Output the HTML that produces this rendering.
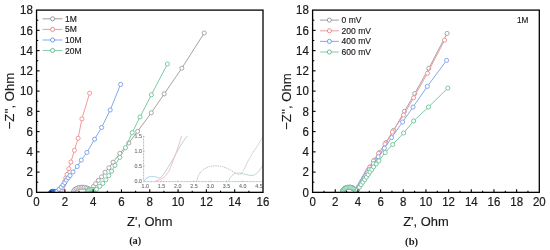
<!DOCTYPE html>
<html><head><meta charset="utf-8"><title>Nyquist plots</title>
<style>html,body{margin:0;padding:0;background:#fff;}svg{display:block;}</style>
</head><body>
<svg width="550" height="250" viewBox="0 0 550 250" font-family="'Liberation Sans', Arial, sans-serif">
<rect width="550" height="250" fill="#fff"/>
<clipPath id="ca"><rect x="36.55" y="10.1" width="226.45" height="182.25"/></clipPath>
<clipPath id="cb"><rect x="312.6" y="10.1" width="226.70" height="182.25"/></clipPath>
<g clip-path="url(#ca)">
<polyline points="73.35,192.35 73.38,191.93 73.46,191.52 73.61,191.11 73.81,190.71 74.06,190.33 74.37,189.95 74.73,189.59 75.14,189.25 75.59,188.93 76.09,188.63 76.63,188.35 77.20,188.10 77.81,187.88 78.44,187.68 79.10,187.52 79.78,187.39 80.48,187.29 81.19,187.22 81.91,187.19 82.62,187.19 83.34,187.22 84.05,187.29 84.75,187.39 85.43,187.52 86.09,187.68 86.72,187.88 87.33,188.10 87.90,188.35 88.44,188.63 88.94,188.93 89.39,189.25 89.80,189.59 90.16,189.95 90.47,190.33 90.72,190.71 90.92,191.11 91.07,191.52 91.15,191.93 91.18,192.35 91.80,189.80 93.60,186.40 95.60,183.70 98.30,180.40 101.60,176.80 105.10,172.20 108.90,167.80 113.20,162.20 119.80,153.40 128.80,143.00 137.60,131.30 151.30,112.80 164.20,93.90 181.80,68.20 204.20,33.00" fill="none" stroke="#a4a4a4" stroke-width="1.0" stroke-linejoin="round"/>
<circle cx="73.35" cy="192.35" r="2.05" fill="#fff" stroke="#999999" stroke-width="0.85"/>
<circle cx="73.79" cy="190.75" r="2.05" fill="#fff" stroke="#999999" stroke-width="0.85"/>
<circle cx="74.86" cy="189.48" r="2.05" fill="#fff" stroke="#999999" stroke-width="0.85"/>
<circle cx="76.25" cy="188.54" r="2.05" fill="#fff" stroke="#999999" stroke-width="0.85"/>
<circle cx="77.79" cy="187.89" r="2.05" fill="#fff" stroke="#999999" stroke-width="0.85"/>
<circle cx="79.41" cy="187.46" r="2.05" fill="#fff" stroke="#999999" stroke-width="0.85"/>
<circle cx="81.06" cy="187.24" r="2.05" fill="#fff" stroke="#999999" stroke-width="0.85"/>
<circle cx="82.74" cy="187.20" r="2.05" fill="#fff" stroke="#999999" stroke-width="0.85"/>
<circle cx="84.41" cy="187.34" r="2.05" fill="#fff" stroke="#999999" stroke-width="0.85"/>
<circle cx="86.05" cy="187.68" r="2.05" fill="#fff" stroke="#999999" stroke-width="0.85"/>
<circle cx="87.63" cy="188.23" r="2.05" fill="#fff" stroke="#999999" stroke-width="0.85"/>
<circle cx="89.09" cy="189.03" r="2.05" fill="#fff" stroke="#999999" stroke-width="0.85"/>
<circle cx="90.33" cy="190.16" r="2.05" fill="#fff" stroke="#999999" stroke-width="0.85"/>
<circle cx="91.09" cy="191.63" r="2.05" fill="#fff" stroke="#999999" stroke-width="0.85"/>
<circle cx="91.40" cy="191.43" r="2.05" fill="#fff" stroke="#999999" stroke-width="0.85"/>
<circle cx="91.80" cy="189.80" r="2.05" fill="#fff" stroke="#999999" stroke-width="0.85"/>
<circle cx="93.60" cy="186.40" r="2.05" fill="#fff" stroke="#999999" stroke-width="0.85"/>
<circle cx="95.60" cy="183.70" r="2.05" fill="#fff" stroke="#999999" stroke-width="0.85"/>
<circle cx="98.30" cy="180.40" r="2.05" fill="#fff" stroke="#999999" stroke-width="0.85"/>
<circle cx="101.60" cy="176.80" r="2.05" fill="#fff" stroke="#999999" stroke-width="0.85"/>
<circle cx="105.10" cy="172.20" r="2.05" fill="#fff" stroke="#999999" stroke-width="0.85"/>
<circle cx="108.90" cy="167.80" r="2.05" fill="#fff" stroke="#999999" stroke-width="0.85"/>
<circle cx="113.20" cy="162.20" r="2.05" fill="#fff" stroke="#999999" stroke-width="0.85"/>
<circle cx="119.80" cy="153.40" r="2.05" fill="#fff" stroke="#999999" stroke-width="0.85"/>
<circle cx="128.80" cy="143.00" r="2.05" fill="#fff" stroke="#999999" stroke-width="0.85"/>
<circle cx="137.60" cy="131.30" r="2.05" fill="#fff" stroke="#999999" stroke-width="0.85"/>
<circle cx="151.30" cy="112.80" r="2.05" fill="#fff" stroke="#999999" stroke-width="0.85"/>
<circle cx="164.20" cy="93.90" r="2.05" fill="#fff" stroke="#999999" stroke-width="0.85"/>
<circle cx="181.80" cy="68.20" r="2.05" fill="#fff" stroke="#999999" stroke-width="0.85"/>
<circle cx="204.20" cy="33.00" r="2.05" fill="#fff" stroke="#999999" stroke-width="0.85"/>
<polyline points="54.80,192.60 57.20,191.80 59.50,191.30 61.20,190.00 62.60,187.60 63.80,184.80 64.80,181.50 65.80,178.00 67.00,174.40 68.80,168.70 70.90,162.00 74.40,150.30 78.10,138.30 81.90,118.90 89.60,93.20" fill="none" stroke="#f29a9a" stroke-width="1.0" stroke-linejoin="round"/>
<circle cx="54.80" cy="192.60" r="2.05" fill="#fff" stroke="#f08888" stroke-width="0.85"/>
<circle cx="55.73" cy="192.29" r="2.05" fill="#fff" stroke="#f08888" stroke-width="0.85"/>
<circle cx="56.65" cy="191.98" r="2.05" fill="#fff" stroke="#f08888" stroke-width="0.85"/>
<circle cx="57.59" cy="191.71" r="2.05" fill="#fff" stroke="#f08888" stroke-width="0.85"/>
<circle cx="58.55" cy="191.51" r="2.05" fill="#fff" stroke="#f08888" stroke-width="0.85"/>
<circle cx="59.50" cy="191.30" r="2.05" fill="#fff" stroke="#f08888" stroke-width="0.85"/>
<circle cx="61.20" cy="190.00" r="2.05" fill="#fff" stroke="#f08888" stroke-width="0.85"/>
<circle cx="62.60" cy="187.60" r="2.05" fill="#fff" stroke="#f08888" stroke-width="0.85"/>
<circle cx="63.80" cy="184.80" r="2.05" fill="#fff" stroke="#f08888" stroke-width="0.85"/>
<circle cx="64.80" cy="181.50" r="2.05" fill="#fff" stroke="#f08888" stroke-width="0.85"/>
<circle cx="65.80" cy="178.00" r="2.05" fill="#fff" stroke="#f08888" stroke-width="0.85"/>
<circle cx="67.00" cy="174.40" r="2.05" fill="#fff" stroke="#f08888" stroke-width="0.85"/>
<circle cx="68.80" cy="168.70" r="2.05" fill="#fff" stroke="#f08888" stroke-width="0.85"/>
<circle cx="70.90" cy="162.00" r="2.05" fill="#fff" stroke="#f08888" stroke-width="0.85"/>
<circle cx="74.40" cy="150.30" r="2.05" fill="#fff" stroke="#f08888" stroke-width="0.85"/>
<circle cx="78.10" cy="138.30" r="2.05" fill="#fff" stroke="#f08888" stroke-width="0.85"/>
<circle cx="81.90" cy="118.90" r="2.05" fill="#fff" stroke="#f08888" stroke-width="0.85"/>
<circle cx="89.60" cy="93.20" r="2.05" fill="#fff" stroke="#f08888" stroke-width="0.85"/>
<circle cx="50.42" cy="192.35" r="1.9" fill="#2c72e4" stroke="#2c72e4" stroke-width="0.6"/>
<circle cx="50.75" cy="192.11" r="1.9" fill="#2c72e4" stroke="#2c72e4" stroke-width="0.6"/>
<circle cx="51.08" cy="191.87" r="1.9" fill="#2c72e4" stroke="#2c72e4" stroke-width="0.6"/>
<circle cx="51.42" cy="191.64" r="1.9" fill="#2c72e4" stroke="#2c72e4" stroke-width="0.6"/>
<circle cx="51.79" cy="191.50" r="1.9" fill="#2c72e4" stroke="#2c72e4" stroke-width="0.6"/>
<circle cx="52.19" cy="191.44" r="1.9" fill="#2c72e4" stroke="#2c72e4" stroke-width="0.6"/>
<circle cx="52.60" cy="191.38" r="1.9" fill="#2c72e4" stroke="#2c72e4" stroke-width="0.6"/>
<circle cx="53.00" cy="191.32" r="1.9" fill="#2c72e4" stroke="#2c72e4" stroke-width="0.6"/>
<circle cx="53.40" cy="191.26" r="1.9" fill="#2c72e4" stroke="#2c72e4" stroke-width="0.6"/>
<circle cx="53.81" cy="191.27" r="1.9" fill="#2c72e4" stroke="#2c72e4" stroke-width="0.6"/>
<circle cx="54.21" cy="191.32" r="1.9" fill="#2c72e4" stroke="#2c72e4" stroke-width="0.6"/>
<circle cx="54.62" cy="191.37" r="1.9" fill="#2c72e4" stroke="#2c72e4" stroke-width="0.6"/>
<circle cx="55.03" cy="191.41" r="1.9" fill="#2c72e4" stroke="#2c72e4" stroke-width="0.6"/>
<circle cx="55.43" cy="191.48" r="1.9" fill="#2c72e4" stroke="#2c72e4" stroke-width="0.6"/>
<circle cx="55.83" cy="191.57" r="1.9" fill="#2c72e4" stroke="#2c72e4" stroke-width="0.6"/>
<circle cx="56.23" cy="191.65" r="1.9" fill="#2c72e4" stroke="#2c72e4" stroke-width="0.6"/>
<circle cx="56.63" cy="191.74" r="1.9" fill="#2c72e4" stroke="#2c72e4" stroke-width="0.6"/>
<circle cx="57.01" cy="191.61" r="1.9" fill="#2c72e4" stroke="#2c72e4" stroke-width="0.6"/>
<circle cx="57.40" cy="191.48" r="1.9" fill="#2c72e4" stroke="#2c72e4" stroke-width="0.6"/>
<circle cx="57.78" cy="191.34" r="1.9" fill="#2c72e4" stroke="#2c72e4" stroke-width="0.6"/>
<polyline points="57.00,191.20 58.50,189.90 61.30,187.00 64.60,182.80 67.00,179.20 70.00,175.60 73.00,172.00 77.20,166.50 81.30,160.10 86.90,152.40 94.60,139.20 101.60,127.50 110.20,110.00 120.60,84.40" fill="none" stroke="#82aaec" stroke-width="1.0" stroke-linejoin="round"/>
<circle cx="57.00" cy="191.20" r="2.05" fill="#fff" stroke="#6e9ae6" stroke-width="0.85"/>
<circle cx="59.14" cy="189.23" r="2.05" fill="#fff" stroke="#6e9ae6" stroke-width="0.85"/>
<circle cx="61.16" cy="187.14" r="2.05" fill="#fff" stroke="#6e9ae6" stroke-width="0.85"/>
<circle cx="62.98" cy="184.87" r="2.05" fill="#fff" stroke="#6e9ae6" stroke-width="0.85"/>
<circle cx="64.76" cy="182.56" r="2.05" fill="#fff" stroke="#6e9ae6" stroke-width="0.85"/>
<circle cx="66.37" cy="180.14" r="2.05" fill="#fff" stroke="#6e9ae6" stroke-width="0.85"/>
<circle cx="68.14" cy="177.84" r="2.05" fill="#fff" stroke="#6e9ae6" stroke-width="0.85"/>
<circle cx="70.00" cy="175.60" r="2.05" fill="#fff" stroke="#6e9ae6" stroke-width="0.85"/>
<circle cx="73.00" cy="172.00" r="2.05" fill="#fff" stroke="#6e9ae6" stroke-width="0.85"/>
<circle cx="77.20" cy="166.50" r="2.05" fill="#fff" stroke="#6e9ae6" stroke-width="0.85"/>
<circle cx="81.30" cy="160.10" r="2.05" fill="#fff" stroke="#6e9ae6" stroke-width="0.85"/>
<circle cx="86.90" cy="152.40" r="2.05" fill="#fff" stroke="#6e9ae6" stroke-width="0.85"/>
<circle cx="94.60" cy="139.20" r="2.05" fill="#fff" stroke="#6e9ae6" stroke-width="0.85"/>
<circle cx="101.60" cy="127.50" r="2.05" fill="#fff" stroke="#6e9ae6" stroke-width="0.85"/>
<circle cx="110.20" cy="110.00" r="2.05" fill="#fff" stroke="#6e9ae6" stroke-width="0.85"/>
<circle cx="120.60" cy="84.40" r="2.05" fill="#fff" stroke="#6e9ae6" stroke-width="0.85"/>
<polyline points="86.80,192.60 88.10,190.60 90.00,189.70 92.00,189.40 94.20,189.50 96.50,189.30 99.80,186.40 102.80,183.40 105.80,179.80 108.80,175.60 111.60,171.20 115.00,165.40 119.80,157.40 125.50,147.70 132.20,132.70 140.00,116.90 151.40,94.80 167.40,64.00" fill="none" stroke="#7ccaa2" stroke-width="1.0" stroke-linejoin="round"/>
<circle cx="86.80" cy="192.60" r="2.05" fill="#fff" stroke="#68bf92" stroke-width="0.85"/>
<circle cx="87.55" cy="191.44" r="2.05" fill="#fff" stroke="#68bf92" stroke-width="0.85"/>
<circle cx="88.43" cy="190.44" r="2.05" fill="#fff" stroke="#68bf92" stroke-width="0.85"/>
<circle cx="89.68" cy="189.85" r="2.05" fill="#fff" stroke="#68bf92" stroke-width="0.85"/>
<circle cx="91.01" cy="189.55" r="2.05" fill="#fff" stroke="#68bf92" stroke-width="0.85"/>
<circle cx="92.38" cy="189.42" r="2.05" fill="#fff" stroke="#68bf92" stroke-width="0.85"/>
<circle cx="93.75" cy="189.48" r="2.05" fill="#fff" stroke="#68bf92" stroke-width="0.85"/>
<circle cx="95.13" cy="189.42" r="2.05" fill="#fff" stroke="#68bf92" stroke-width="0.85"/>
<circle cx="96.50" cy="189.30" r="2.05" fill="#fff" stroke="#68bf92" stroke-width="0.85"/>
<circle cx="99.80" cy="186.40" r="2.05" fill="#fff" stroke="#68bf92" stroke-width="0.85"/>
<circle cx="102.80" cy="183.40" r="2.05" fill="#fff" stroke="#68bf92" stroke-width="0.85"/>
<circle cx="105.80" cy="179.80" r="2.05" fill="#fff" stroke="#68bf92" stroke-width="0.85"/>
<circle cx="108.80" cy="175.60" r="2.05" fill="#fff" stroke="#68bf92" stroke-width="0.85"/>
<circle cx="111.60" cy="171.20" r="2.05" fill="#fff" stroke="#68bf92" stroke-width="0.85"/>
<circle cx="115.00" cy="165.40" r="2.05" fill="#fff" stroke="#68bf92" stroke-width="0.85"/>
<circle cx="119.80" cy="157.40" r="2.05" fill="#fff" stroke="#68bf92" stroke-width="0.85"/>
<circle cx="125.50" cy="147.70" r="2.05" fill="#fff" stroke="#68bf92" stroke-width="0.85"/>
<circle cx="132.20" cy="132.70" r="2.05" fill="#fff" stroke="#68bf92" stroke-width="0.85"/>
<circle cx="140.00" cy="116.90" r="2.05" fill="#fff" stroke="#68bf92" stroke-width="0.85"/>
<circle cx="151.40" cy="94.80" r="2.05" fill="#fff" stroke="#68bf92" stroke-width="0.85"/>
<circle cx="167.40" cy="64.00" r="2.05" fill="#fff" stroke="#68bf92" stroke-width="0.85"/>
</g>
<line x1="143.6" y1="136.0" x2="143.6" y2="181.6" stroke="#9a9a9a" stroke-width="0.7" stroke-dasharray="1,0.5"/>
<line x1="143.6" y1="181.6" x2="262.3" y2="181.6" stroke="#9a9a9a" stroke-width="0.7" stroke-dasharray="1,0.5"/>
<line x1="143.6" y1="165.95" x2="144.79999999999998" y2="165.95" stroke="#9a9a9a" stroke-width="0.5"/>
<line x1="143.6" y1="151.10" x2="144.79999999999998" y2="151.10" stroke="#9a9a9a" stroke-width="0.5"/>
<line x1="143.6" y1="136.25" x2="144.79999999999998" y2="136.25" stroke="#9a9a9a" stroke-width="0.5"/>
<line x1="161.45" y1="181.6" x2="161.45" y2="180.4" stroke="#9a9a9a" stroke-width="0.5"/>
<line x1="177.70" y1="181.6" x2="177.70" y2="180.4" stroke="#9a9a9a" stroke-width="0.5"/>
<line x1="193.95" y1="181.6" x2="193.95" y2="180.4" stroke="#9a9a9a" stroke-width="0.5"/>
<line x1="210.20" y1="181.6" x2="210.20" y2="180.4" stroke="#9a9a9a" stroke-width="0.5"/>
<line x1="226.45" y1="181.6" x2="226.45" y2="180.4" stroke="#9a9a9a" stroke-width="0.5"/>
<line x1="242.70" y1="181.6" x2="242.70" y2="180.4" stroke="#9a9a9a" stroke-width="0.5"/>
<text x="141.9" y="182.70" text-anchor="end" font-size="5.3" fill="#666" stroke="#666" stroke-width="0.08">0.0</text>
<text x="141.9" y="167.85" text-anchor="end" font-size="5.3" fill="#666" stroke="#666" stroke-width="0.08">0.5</text>
<text x="141.9" y="153.00" text-anchor="end" font-size="5.3" fill="#666" stroke="#666" stroke-width="0.08">1.0</text>
<text x="141.9" y="138.15" text-anchor="end" font-size="5.3" fill="#666" stroke="#666" stroke-width="0.08">1.5</text>
<clipPath id="lc"><rect x="0" y="0" width="262.3" height="250"/></clipPath>
<g clip-path="url(#lc)">
<text x="145.20" y="188.1" text-anchor="middle" font-size="5.3" fill="#666" stroke="#666" stroke-width="0.08">1.0</text>
<text x="161.45" y="188.1" text-anchor="middle" font-size="5.3" fill="#666" stroke="#666" stroke-width="0.08">1.5</text>
<text x="177.70" y="188.1" text-anchor="middle" font-size="5.3" fill="#666" stroke="#666" stroke-width="0.08">2.0</text>
<text x="193.95" y="188.1" text-anchor="middle" font-size="5.3" fill="#666" stroke="#666" stroke-width="0.08">2.5</text>
<text x="210.20" y="188.1" text-anchor="middle" font-size="5.3" fill="#666" stroke="#666" stroke-width="0.08">3.0</text>
<text x="226.45" y="188.1" text-anchor="middle" font-size="5.3" fill="#666" stroke="#666" stroke-width="0.08">3.5</text>
<text x="242.70" y="188.1" text-anchor="middle" font-size="5.3" fill="#666" stroke="#666" stroke-width="0.08">4.0</text>
<text x="258.95" y="188.1" text-anchor="middle" font-size="5.3" fill="#666" stroke="#666" stroke-width="0.08">4.5</text>
</g>
<clipPath id="ic"><rect x="143.6" y="136.0" width="118.70000000000002" height="45.599999999999994"/></clipPath>
<g clip-path="url(#ic)">
<polyline points="144.20,181.00 146.00,178.50 148.50,177.00 151.30,176.30 154.50,176.60 157.50,177.50 159.60,177.90 162.00,176.50 164.20,173.50 166.00,170.50 168.50,166.50 171.00,162.50 174.00,157.50 177.50,151.00 181.50,144.00 185.00,139.00 187.40,136.00 188.50,134.00" fill="none" stroke="#a6cfea" stroke-width="0.9" stroke-linejoin="round" />
<polyline points="154.50,181.60 155.80,180.80 159.00,179.80 162.20,178.60 165.00,176.50 168.60,171.80 170.50,167.50 172.20,163.00 174.50,157.00 177.00,150.00 179.50,143.00 181.60,136.00 182.00,134.00" fill="none" stroke="#f2baba" stroke-width="0.9" stroke-linejoin="round" />
<polyline points="196.80,181.00 198.20,176.00 200.50,172.00 204.00,169.00 208.50,166.80 213.00,165.90 217.00,165.80 221.50,166.40 226.00,167.80 230.50,170.00 235.00,172.60 238.50,174.60 241.00,173.80 244.00,169.50 248.00,161.00 252.00,154.00 256.00,148.00 261.00,140.00 263.00,137.00" fill="none" stroke="#b4b4b4" stroke-width="0.8" stroke-linejoin="round" stroke-dasharray="1.4,0.8"/>
<polyline points="228.40,181.00 230.00,178.00 232.00,175.50 234.60,173.50 239.40,173.00 244.20,174.00 250.00,175.40 253.80,175.40 257.70,172.50 260.60,168.70 263.00,165.00" fill="none" stroke="#acdccb" stroke-width="0.9" stroke-linejoin="round" />
</g>
<rect x="36.55" y="10.1" width="226.45" height="182.25" fill="none" stroke="#000" stroke-width="1.3"/>
<line x1="36.55" y1="182.22" x2="38.25" y2="182.22" stroke="#000" stroke-width="1.1"/>
<line x1="36.55" y1="172.10" x2="39.55" y2="172.10" stroke="#000" stroke-width="1.1"/>
<line x1="36.55" y1="161.97" x2="38.25" y2="161.97" stroke="#000" stroke-width="1.1"/>
<line x1="36.55" y1="151.85" x2="39.55" y2="151.85" stroke="#000" stroke-width="1.1"/>
<line x1="36.55" y1="141.72" x2="38.25" y2="141.72" stroke="#000" stroke-width="1.1"/>
<line x1="36.55" y1="131.60" x2="39.55" y2="131.60" stroke="#000" stroke-width="1.1"/>
<line x1="36.55" y1="121.47" x2="38.25" y2="121.47" stroke="#000" stroke-width="1.1"/>
<line x1="36.55" y1="111.35" x2="39.55" y2="111.35" stroke="#000" stroke-width="1.1"/>
<line x1="36.55" y1="101.22" x2="38.25" y2="101.22" stroke="#000" stroke-width="1.1"/>
<line x1="36.55" y1="91.10" x2="39.55" y2="91.10" stroke="#000" stroke-width="1.1"/>
<line x1="36.55" y1="80.97" x2="38.25" y2="80.97" stroke="#000" stroke-width="1.1"/>
<line x1="36.55" y1="70.85" x2="39.55" y2="70.85" stroke="#000" stroke-width="1.1"/>
<line x1="36.55" y1="60.72" x2="38.25" y2="60.72" stroke="#000" stroke-width="1.1"/>
<line x1="36.55" y1="50.60" x2="39.55" y2="50.60" stroke="#000" stroke-width="1.1"/>
<line x1="36.55" y1="40.47" x2="38.25" y2="40.47" stroke="#000" stroke-width="1.1"/>
<line x1="36.55" y1="30.35" x2="39.55" y2="30.35" stroke="#000" stroke-width="1.1"/>
<line x1="36.55" y1="20.22" x2="38.25" y2="20.22" stroke="#000" stroke-width="1.1"/>
<text transform="translate(32.85,196.60) scale(0.95,1)" text-anchor="end" font-size="12.1" fill="#1a1a1a" stroke="#1a1a1a" stroke-width="0.2">0</text>
<text transform="translate(32.85,176.35) scale(0.95,1)" text-anchor="end" font-size="12.1" fill="#1a1a1a" stroke="#1a1a1a" stroke-width="0.2">2</text>
<text transform="translate(32.85,156.10) scale(0.95,1)" text-anchor="end" font-size="12.1" fill="#1a1a1a" stroke="#1a1a1a" stroke-width="0.2">4</text>
<text transform="translate(32.85,135.85) scale(0.95,1)" text-anchor="end" font-size="12.1" fill="#1a1a1a" stroke="#1a1a1a" stroke-width="0.2">6</text>
<text transform="translate(32.85,115.60) scale(0.95,1)" text-anchor="end" font-size="12.1" fill="#1a1a1a" stroke="#1a1a1a" stroke-width="0.2">8</text>
<text transform="translate(32.85,95.35) scale(0.95,1)" text-anchor="end" font-size="12.1" fill="#1a1a1a" stroke="#1a1a1a" stroke-width="0.2">10</text>
<text transform="translate(32.85,75.10) scale(0.95,1)" text-anchor="end" font-size="12.1" fill="#1a1a1a" stroke="#1a1a1a" stroke-width="0.2">12</text>
<text transform="translate(32.85,54.85) scale(0.95,1)" text-anchor="end" font-size="12.1" fill="#1a1a1a" stroke="#1a1a1a" stroke-width="0.2">14</text>
<text transform="translate(32.85,34.60) scale(0.95,1)" text-anchor="end" font-size="12.1" fill="#1a1a1a" stroke="#1a1a1a" stroke-width="0.2">16</text>
<text transform="translate(32.85,14.35) scale(0.95,1)" text-anchor="end" font-size="12.1" fill="#1a1a1a" stroke="#1a1a1a" stroke-width="0.2">18</text>
<line x1="50.70" y1="192.35" x2="50.70" y2="190.65" stroke="#000" stroke-width="1.1"/>
<line x1="64.86" y1="192.35" x2="64.86" y2="189.35" stroke="#000" stroke-width="1.1"/>
<line x1="79.01" y1="192.35" x2="79.01" y2="190.65" stroke="#000" stroke-width="1.1"/>
<line x1="93.16" y1="192.35" x2="93.16" y2="189.35" stroke="#000" stroke-width="1.1"/>
<line x1="107.32" y1="192.35" x2="107.32" y2="190.65" stroke="#000" stroke-width="1.1"/>
<line x1="121.47" y1="192.35" x2="121.47" y2="189.35" stroke="#000" stroke-width="1.1"/>
<line x1="135.62" y1="192.35" x2="135.62" y2="190.65" stroke="#000" stroke-width="1.1"/>
<line x1="149.77" y1="192.35" x2="149.77" y2="189.35" stroke="#000" stroke-width="1.1"/>
<line x1="163.93" y1="192.35" x2="163.93" y2="190.65" stroke="#000" stroke-width="1.1"/>
<line x1="178.08" y1="192.35" x2="178.08" y2="189.35" stroke="#000" stroke-width="1.1"/>
<line x1="192.23" y1="192.35" x2="192.23" y2="190.65" stroke="#000" stroke-width="1.1"/>
<line x1="206.39" y1="192.35" x2="206.39" y2="189.35" stroke="#000" stroke-width="1.1"/>
<line x1="220.54" y1="192.35" x2="220.54" y2="190.65" stroke="#000" stroke-width="1.1"/>
<line x1="234.69" y1="192.35" x2="234.69" y2="189.35" stroke="#000" stroke-width="1.1"/>
<line x1="248.85" y1="192.35" x2="248.85" y2="190.65" stroke="#000" stroke-width="1.1"/>
<text transform="translate(36.55,206.0) scale(0.95,1)" text-anchor="middle" font-size="12.1" fill="#1a1a1a" stroke="#1a1a1a" stroke-width="0.2">0</text>
<text transform="translate(64.86,206.0) scale(0.95,1)" text-anchor="middle" font-size="12.1" fill="#1a1a1a" stroke="#1a1a1a" stroke-width="0.2">2</text>
<text transform="translate(93.16,206.0) scale(0.95,1)" text-anchor="middle" font-size="12.1" fill="#1a1a1a" stroke="#1a1a1a" stroke-width="0.2">4</text>
<text transform="translate(121.47,206.0) scale(0.95,1)" text-anchor="middle" font-size="12.1" fill="#1a1a1a" stroke="#1a1a1a" stroke-width="0.2">6</text>
<text transform="translate(149.77,206.0) scale(0.95,1)" text-anchor="middle" font-size="12.1" fill="#1a1a1a" stroke="#1a1a1a" stroke-width="0.2">8</text>
<text transform="translate(178.08,206.0) scale(0.95,1)" text-anchor="middle" font-size="12.1" fill="#1a1a1a" stroke="#1a1a1a" stroke-width="0.2">10</text>
<text transform="translate(206.39,206.0) scale(0.95,1)" text-anchor="middle" font-size="12.1" fill="#1a1a1a" stroke="#1a1a1a" stroke-width="0.2">12</text>
<text transform="translate(234.69,206.0) scale(0.95,1)" text-anchor="middle" font-size="12.1" fill="#1a1a1a" stroke="#1a1a1a" stroke-width="0.2">14</text>
<text transform="translate(263.00,206.0) scale(0.95,1)" text-anchor="middle" font-size="12.1" fill="#1a1a1a" stroke="#1a1a1a" stroke-width="0.2">16</text>
<text x="149.78" y="225.6" text-anchor="middle" font-size="12.9" fill="#1a1a1a" stroke="#1a1a1a" stroke-width="0.15">Z', Ohm</text>
<line x1="42.5" y1="18.8" x2="62.5" y2="18.8" stroke="#a6a6a6" stroke-width="1.1"/>
<circle cx="52.6" cy="18.8" r="2.05" fill="#fff" stroke="#8a8a8a" stroke-width="0.85"/>
<text x="65.0" y="21.80" font-size="8.5" fill="#1a1a1a" stroke="#1a1a1a" stroke-width="0.15">1M</text>
<line x1="42.5" y1="29.4" x2="62.5" y2="29.4" stroke="#f2a2a2" stroke-width="1.1"/>
<circle cx="52.6" cy="29.4" r="2.05" fill="#fff" stroke="#ec7a7a" stroke-width="0.85"/>
<text x="65.0" y="32.40" font-size="8.5" fill="#1a1a1a" stroke="#1a1a1a" stroke-width="0.15">5M</text>
<line x1="42.5" y1="40.0" x2="62.5" y2="40.0" stroke="#8eb2ee" stroke-width="1.1"/>
<circle cx="52.6" cy="40.0" r="2.05" fill="#fff" stroke="#5d8ce4" stroke-width="0.85"/>
<text x="65.0" y="43.00" font-size="8.5" fill="#1a1a1a" stroke="#1a1a1a" stroke-width="0.15">10M</text>
<line x1="42.5" y1="50.5" x2="62.5" y2="50.5" stroke="#8ccfae" stroke-width="1.1"/>
<circle cx="52.6" cy="50.5" r="2.05" fill="#fff" stroke="#58b486" stroke-width="0.85"/>
<text x="65.0" y="53.50" font-size="8.5" fill="#1a1a1a" stroke="#1a1a1a" stroke-width="0.15">20M</text>
<text transform="translate(14.1,101.0) rotate(-90)" text-anchor="middle" font-size="13.2" fill="#1a1a1a" stroke="#1a1a1a" stroke-width="0.15">−Z'', Ohm</text>
<text x="135.2" y="244.4" text-anchor="middle" font-family="'Liberation Serif', serif" font-weight="bold" font-size="10.4" fill="#1a1a1a">(a)</text>
<g clip-path="url(#cb)">
<polyline points="342.52,192.35 342.55,191.94 342.61,191.54 342.72,191.14 342.86,190.75 343.05,190.37 343.28,190.00 343.54,189.64 343.84,189.31 344.18,188.99 344.54,188.70 344.94,188.43 345.36,188.18 345.81,187.97 346.28,187.78 346.77,187.62 347.27,187.49 347.78,187.39 348.31,187.32 348.83,187.29 349.36,187.29 349.89,187.32 350.41,187.39 350.93,187.49 351.43,187.62 351.92,187.78 352.39,187.97 352.83,188.18 353.26,188.43 353.65,188.70 354.02,188.99 354.35,189.31 354.66,189.64 354.92,190.00 355.15,190.37 355.33,190.75 355.48,191.14 355.59,191.54 355.65,191.94 355.67,192.35 355.70,192.35 357.20,189.60 370.30,166.80 374.30,160.20 379.40,152.50 386.00,142.60 393.60,130.40 404.50,111.30 414.70,93.60 428.80,68.30 447.10,33.40" fill="none" stroke="#a4a4a4" stroke-width="1.0" stroke-linejoin="round"/>
<circle cx="342.52" cy="192.35" r="2.05" fill="#fff" stroke="#999999" stroke-width="0.85"/>
<circle cx="342.74" cy="191.06" r="2.05" fill="#fff" stroke="#999999" stroke-width="0.85"/>
<circle cx="343.35" cy="189.91" r="2.05" fill="#fff" stroke="#999999" stroke-width="0.85"/>
<circle cx="344.24" cy="188.95" r="2.05" fill="#fff" stroke="#999999" stroke-width="0.85"/>
<circle cx="345.32" cy="188.21" r="2.05" fill="#fff" stroke="#999999" stroke-width="0.85"/>
<circle cx="346.52" cy="187.70" r="2.05" fill="#fff" stroke="#999999" stroke-width="0.85"/>
<circle cx="347.79" cy="187.39" r="2.05" fill="#fff" stroke="#999999" stroke-width="0.85"/>
<circle cx="349.10" cy="187.29" r="2.05" fill="#fff" stroke="#999999" stroke-width="0.85"/>
<circle cx="350.40" cy="187.39" r="2.05" fill="#fff" stroke="#999999" stroke-width="0.85"/>
<circle cx="351.68" cy="187.70" r="2.05" fill="#fff" stroke="#999999" stroke-width="0.85"/>
<circle cx="352.88" cy="188.21" r="2.05" fill="#fff" stroke="#999999" stroke-width="0.85"/>
<circle cx="353.96" cy="188.95" r="2.05" fill="#fff" stroke="#999999" stroke-width="0.85"/>
<circle cx="354.85" cy="189.91" r="2.05" fill="#fff" stroke="#999999" stroke-width="0.85"/>
<circle cx="355.45" cy="191.06" r="2.05" fill="#fff" stroke="#999999" stroke-width="0.85"/>
<circle cx="355.67" cy="192.35" r="2.05" fill="#fff" stroke="#999999" stroke-width="0.85"/>
<circle cx="355.70" cy="192.35" r="2.05" fill="#fff" stroke="#999999" stroke-width="0.85"/>
<circle cx="357.27" cy="189.48" r="2.05" fill="#fff" stroke="#999999" stroke-width="0.85"/>
<circle cx="358.90" cy="186.65" r="2.05" fill="#fff" stroke="#999999" stroke-width="0.85"/>
<circle cx="360.53" cy="183.81" r="2.05" fill="#fff" stroke="#999999" stroke-width="0.85"/>
<circle cx="362.16" cy="180.98" r="2.05" fill="#fff" stroke="#999999" stroke-width="0.85"/>
<circle cx="363.78" cy="178.14" r="2.05" fill="#fff" stroke="#999999" stroke-width="0.85"/>
<circle cx="365.41" cy="175.31" r="2.05" fill="#fff" stroke="#999999" stroke-width="0.85"/>
<circle cx="367.04" cy="172.47" r="2.05" fill="#fff" stroke="#999999" stroke-width="0.85"/>
<circle cx="368.67" cy="169.64" r="2.05" fill="#fff" stroke="#999999" stroke-width="0.85"/>
<circle cx="370.30" cy="166.80" r="2.05" fill="#fff" stroke="#999999" stroke-width="0.85"/>
<circle cx="374.30" cy="160.20" r="2.05" fill="#fff" stroke="#999999" stroke-width="0.85"/>
<circle cx="379.40" cy="152.50" r="2.05" fill="#fff" stroke="#999999" stroke-width="0.85"/>
<circle cx="386.00" cy="142.60" r="2.05" fill="#fff" stroke="#999999" stroke-width="0.85"/>
<circle cx="393.60" cy="130.40" r="2.05" fill="#fff" stroke="#999999" stroke-width="0.85"/>
<circle cx="404.50" cy="111.30" r="2.05" fill="#fff" stroke="#999999" stroke-width="0.85"/>
<circle cx="414.70" cy="93.60" r="2.05" fill="#fff" stroke="#999999" stroke-width="0.85"/>
<circle cx="428.80" cy="68.30" r="2.05" fill="#fff" stroke="#999999" stroke-width="0.85"/>
<circle cx="447.10" cy="33.40" r="2.05" fill="#fff" stroke="#999999" stroke-width="0.85"/>
<polyline points="342.52,192.35 342.55,191.94 342.61,191.54 342.72,191.14 342.86,190.75 343.05,190.37 343.28,190.00 343.54,189.64 343.84,189.31 344.18,188.99 344.54,188.70 344.94,188.43 345.36,188.18 345.81,187.97 346.28,187.78 346.77,187.62 347.27,187.49 347.78,187.39 348.31,187.32 348.83,187.29 349.36,187.29 349.89,187.32 350.41,187.39 350.93,187.49 351.43,187.62 351.92,187.78 352.39,187.97 352.83,188.18 353.26,188.43 353.65,188.70 354.02,188.99 354.35,189.31 354.66,189.64 354.92,190.00 355.15,190.37 355.33,190.75 355.48,191.14 355.59,191.54 355.65,191.94 355.67,192.35 355.70,192.35 357.20,189.60 369.50,167.50 373.50,161.00 378.50,153.50 385.00,144.00 392.40,132.00 403.50,115.10 413.60,97.80 427.40,73.30 444.60,40.10" fill="none" stroke="#f29a9a" stroke-width="1.0" stroke-linejoin="round"/>
<circle cx="342.52" cy="192.35" r="2.05" fill="#fff" stroke="#f08888" stroke-width="0.85"/>
<circle cx="342.74" cy="191.06" r="2.05" fill="#fff" stroke="#f08888" stroke-width="0.85"/>
<circle cx="343.35" cy="189.91" r="2.05" fill="#fff" stroke="#f08888" stroke-width="0.85"/>
<circle cx="344.24" cy="188.95" r="2.05" fill="#fff" stroke="#f08888" stroke-width="0.85"/>
<circle cx="345.32" cy="188.21" r="2.05" fill="#fff" stroke="#f08888" stroke-width="0.85"/>
<circle cx="346.52" cy="187.70" r="2.05" fill="#fff" stroke="#f08888" stroke-width="0.85"/>
<circle cx="347.79" cy="187.39" r="2.05" fill="#fff" stroke="#f08888" stroke-width="0.85"/>
<circle cx="349.10" cy="187.29" r="2.05" fill="#fff" stroke="#f08888" stroke-width="0.85"/>
<circle cx="350.40" cy="187.39" r="2.05" fill="#fff" stroke="#f08888" stroke-width="0.85"/>
<circle cx="351.68" cy="187.70" r="2.05" fill="#fff" stroke="#f08888" stroke-width="0.85"/>
<circle cx="352.88" cy="188.21" r="2.05" fill="#fff" stroke="#f08888" stroke-width="0.85"/>
<circle cx="353.96" cy="188.95" r="2.05" fill="#fff" stroke="#f08888" stroke-width="0.85"/>
<circle cx="354.85" cy="189.91" r="2.05" fill="#fff" stroke="#f08888" stroke-width="0.85"/>
<circle cx="355.45" cy="191.06" r="2.05" fill="#fff" stroke="#f08888" stroke-width="0.85"/>
<circle cx="355.67" cy="192.35" r="2.05" fill="#fff" stroke="#f08888" stroke-width="0.85"/>
<circle cx="355.70" cy="192.35" r="2.05" fill="#fff" stroke="#f08888" stroke-width="0.85"/>
<circle cx="357.21" cy="189.58" r="2.05" fill="#fff" stroke="#f08888" stroke-width="0.85"/>
<circle cx="358.75" cy="186.82" r="2.05" fill="#fff" stroke="#f08888" stroke-width="0.85"/>
<circle cx="360.28" cy="184.06" r="2.05" fill="#fff" stroke="#f08888" stroke-width="0.85"/>
<circle cx="361.82" cy="181.30" r="2.05" fill="#fff" stroke="#f08888" stroke-width="0.85"/>
<circle cx="363.36" cy="178.54" r="2.05" fill="#fff" stroke="#f08888" stroke-width="0.85"/>
<circle cx="364.89" cy="175.78" r="2.05" fill="#fff" stroke="#f08888" stroke-width="0.85"/>
<circle cx="366.43" cy="173.02" r="2.05" fill="#fff" stroke="#f08888" stroke-width="0.85"/>
<circle cx="367.96" cy="170.26" r="2.05" fill="#fff" stroke="#f08888" stroke-width="0.85"/>
<circle cx="369.50" cy="167.50" r="2.05" fill="#fff" stroke="#f08888" stroke-width="0.85"/>
<circle cx="373.50" cy="161.00" r="2.05" fill="#fff" stroke="#f08888" stroke-width="0.85"/>
<circle cx="378.50" cy="153.50" r="2.05" fill="#fff" stroke="#f08888" stroke-width="0.85"/>
<circle cx="385.00" cy="144.00" r="2.05" fill="#fff" stroke="#f08888" stroke-width="0.85"/>
<circle cx="392.40" cy="132.00" r="2.05" fill="#fff" stroke="#f08888" stroke-width="0.85"/>
<circle cx="403.50" cy="115.10" r="2.05" fill="#fff" stroke="#f08888" stroke-width="0.85"/>
<circle cx="413.60" cy="97.80" r="2.05" fill="#fff" stroke="#f08888" stroke-width="0.85"/>
<circle cx="427.40" cy="73.30" r="2.05" fill="#fff" stroke="#f08888" stroke-width="0.85"/>
<circle cx="444.60" cy="40.10" r="2.05" fill="#fff" stroke="#f08888" stroke-width="0.85"/>
<polyline points="342.52,192.35 342.55,191.94 342.61,191.54 342.72,191.14 342.86,190.75 343.05,190.37 343.28,190.00 343.54,189.64 343.84,189.31 344.18,188.99 344.54,188.70 344.94,188.43 345.36,188.18 345.81,187.97 346.28,187.78 346.77,187.62 347.27,187.49 347.78,187.39 348.31,187.32 348.83,187.29 349.36,187.29 349.89,187.32 350.41,187.39 350.93,187.49 351.43,187.62 351.92,187.78 352.39,187.97 352.83,188.18 353.26,188.43 353.65,188.70 354.02,188.99 354.35,189.31 354.66,189.64 354.92,190.00 355.15,190.37 355.33,190.75 355.48,191.14 355.59,191.54 355.65,191.94 355.67,192.35 355.70,192.35 357.20,189.60 369.50,169.50 373.30,163.70 378.20,156.70 384.40,148.20 391.60,137.60 402.60,122.00 413.00,107.10 427.30,86.40 446.60,60.40" fill="none" stroke="#82aaec" stroke-width="1.0" stroke-linejoin="round"/>
<circle cx="342.52" cy="192.35" r="2.05" fill="#fff" stroke="#6e9ae6" stroke-width="0.85"/>
<circle cx="342.74" cy="191.06" r="2.05" fill="#fff" stroke="#6e9ae6" stroke-width="0.85"/>
<circle cx="343.35" cy="189.91" r="2.05" fill="#fff" stroke="#6e9ae6" stroke-width="0.85"/>
<circle cx="344.24" cy="188.95" r="2.05" fill="#fff" stroke="#6e9ae6" stroke-width="0.85"/>
<circle cx="345.32" cy="188.21" r="2.05" fill="#fff" stroke="#6e9ae6" stroke-width="0.85"/>
<circle cx="346.52" cy="187.70" r="2.05" fill="#fff" stroke="#6e9ae6" stroke-width="0.85"/>
<circle cx="347.79" cy="187.39" r="2.05" fill="#fff" stroke="#6e9ae6" stroke-width="0.85"/>
<circle cx="349.10" cy="187.29" r="2.05" fill="#fff" stroke="#6e9ae6" stroke-width="0.85"/>
<circle cx="350.40" cy="187.39" r="2.05" fill="#fff" stroke="#6e9ae6" stroke-width="0.85"/>
<circle cx="351.68" cy="187.70" r="2.05" fill="#fff" stroke="#6e9ae6" stroke-width="0.85"/>
<circle cx="352.88" cy="188.21" r="2.05" fill="#fff" stroke="#6e9ae6" stroke-width="0.85"/>
<circle cx="353.96" cy="188.95" r="2.05" fill="#fff" stroke="#6e9ae6" stroke-width="0.85"/>
<circle cx="354.85" cy="189.91" r="2.05" fill="#fff" stroke="#6e9ae6" stroke-width="0.85"/>
<circle cx="355.45" cy="191.06" r="2.05" fill="#fff" stroke="#6e9ae6" stroke-width="0.85"/>
<circle cx="355.67" cy="192.35" r="2.05" fill="#fff" stroke="#6e9ae6" stroke-width="0.85"/>
<circle cx="355.70" cy="192.35" r="2.05" fill="#fff" stroke="#6e9ae6" stroke-width="0.85"/>
<circle cx="357.31" cy="189.43" r="2.05" fill="#fff" stroke="#6e9ae6" stroke-width="0.85"/>
<circle cx="359.05" cy="186.58" r="2.05" fill="#fff" stroke="#6e9ae6" stroke-width="0.85"/>
<circle cx="360.79" cy="183.73" r="2.05" fill="#fff" stroke="#6e9ae6" stroke-width="0.85"/>
<circle cx="362.53" cy="180.89" r="2.05" fill="#fff" stroke="#6e9ae6" stroke-width="0.85"/>
<circle cx="364.27" cy="178.04" r="2.05" fill="#fff" stroke="#6e9ae6" stroke-width="0.85"/>
<circle cx="366.02" cy="175.19" r="2.05" fill="#fff" stroke="#6e9ae6" stroke-width="0.85"/>
<circle cx="367.76" cy="172.35" r="2.05" fill="#fff" stroke="#6e9ae6" stroke-width="0.85"/>
<circle cx="369.50" cy="169.50" r="2.05" fill="#fff" stroke="#6e9ae6" stroke-width="0.85"/>
<circle cx="373.30" cy="163.70" r="2.05" fill="#fff" stroke="#6e9ae6" stroke-width="0.85"/>
<circle cx="378.20" cy="156.70" r="2.05" fill="#fff" stroke="#6e9ae6" stroke-width="0.85"/>
<circle cx="384.40" cy="148.20" r="2.05" fill="#fff" stroke="#6e9ae6" stroke-width="0.85"/>
<circle cx="391.60" cy="137.60" r="2.05" fill="#fff" stroke="#6e9ae6" stroke-width="0.85"/>
<circle cx="402.60" cy="122.00" r="2.05" fill="#fff" stroke="#6e9ae6" stroke-width="0.85"/>
<circle cx="413.00" cy="107.10" r="2.05" fill="#fff" stroke="#6e9ae6" stroke-width="0.85"/>
<circle cx="427.30" cy="86.40" r="2.05" fill="#fff" stroke="#6e9ae6" stroke-width="0.85"/>
<circle cx="446.60" cy="60.40" r="2.05" fill="#fff" stroke="#6e9ae6" stroke-width="0.85"/>
<polyline points="342.52,192.35 342.55,191.94 342.61,191.54 342.72,191.14 342.86,190.75 343.05,190.37 343.28,190.00 343.54,189.64 343.84,189.31 344.18,188.99 344.54,188.70 344.94,188.43 345.36,188.18 345.81,187.97 346.28,187.78 346.77,187.62 347.27,187.49 347.78,187.39 348.31,187.32 348.83,187.29 349.36,187.29 349.89,187.32 350.41,187.39 350.93,187.49 351.43,187.62 351.92,187.78 352.39,187.97 352.83,188.18 353.26,188.43 353.65,188.70 354.02,188.99 354.35,189.31 354.66,189.64 354.92,190.00 355.15,190.37 355.33,190.75 355.48,191.14 355.59,191.54 355.65,191.94 355.67,192.35 355.70,192.35 357.50,189.80 373.60,166.90 376.20,164.00 378.90,160.90 385.20,152.50 392.70,144.50 403.60,133.00 413.60,121.00 428.50,107.00 447.80,88.10" fill="none" stroke="#7ccaa2" stroke-width="1.0" stroke-linejoin="round"/>
<circle cx="342.52" cy="192.35" r="2.05" fill="#fff" stroke="#68bf92" stroke-width="0.85"/>
<circle cx="342.74" cy="191.06" r="2.05" fill="#fff" stroke="#68bf92" stroke-width="0.85"/>
<circle cx="343.35" cy="189.91" r="2.05" fill="#fff" stroke="#68bf92" stroke-width="0.85"/>
<circle cx="344.24" cy="188.95" r="2.05" fill="#fff" stroke="#68bf92" stroke-width="0.85"/>
<circle cx="345.32" cy="188.21" r="2.05" fill="#fff" stroke="#68bf92" stroke-width="0.85"/>
<circle cx="346.52" cy="187.70" r="2.05" fill="#fff" stroke="#68bf92" stroke-width="0.85"/>
<circle cx="347.79" cy="187.39" r="2.05" fill="#fff" stroke="#68bf92" stroke-width="0.85"/>
<circle cx="349.10" cy="187.29" r="2.05" fill="#fff" stroke="#68bf92" stroke-width="0.85"/>
<circle cx="350.40" cy="187.39" r="2.05" fill="#fff" stroke="#68bf92" stroke-width="0.85"/>
<circle cx="351.68" cy="187.70" r="2.05" fill="#fff" stroke="#68bf92" stroke-width="0.85"/>
<circle cx="352.88" cy="188.21" r="2.05" fill="#fff" stroke="#68bf92" stroke-width="0.85"/>
<circle cx="353.96" cy="188.95" r="2.05" fill="#fff" stroke="#68bf92" stroke-width="0.85"/>
<circle cx="354.85" cy="189.91" r="2.05" fill="#fff" stroke="#68bf92" stroke-width="0.85"/>
<circle cx="355.45" cy="191.06" r="2.05" fill="#fff" stroke="#68bf92" stroke-width="0.85"/>
<circle cx="355.67" cy="192.35" r="2.05" fill="#fff" stroke="#68bf92" stroke-width="0.85"/>
<circle cx="355.70" cy="192.35" r="2.05" fill="#fff" stroke="#68bf92" stroke-width="0.85"/>
<circle cx="357.49" cy="189.81" r="2.05" fill="#fff" stroke="#68bf92" stroke-width="0.85"/>
<circle cx="359.28" cy="187.26" r="2.05" fill="#fff" stroke="#68bf92" stroke-width="0.85"/>
<circle cx="361.07" cy="184.72" r="2.05" fill="#fff" stroke="#68bf92" stroke-width="0.85"/>
<circle cx="362.86" cy="182.17" r="2.05" fill="#fff" stroke="#68bf92" stroke-width="0.85"/>
<circle cx="364.65" cy="179.63" r="2.05" fill="#fff" stroke="#68bf92" stroke-width="0.85"/>
<circle cx="366.44" cy="177.08" r="2.05" fill="#fff" stroke="#68bf92" stroke-width="0.85"/>
<circle cx="368.23" cy="174.54" r="2.05" fill="#fff" stroke="#68bf92" stroke-width="0.85"/>
<circle cx="370.02" cy="171.99" r="2.05" fill="#fff" stroke="#68bf92" stroke-width="0.85"/>
<circle cx="371.81" cy="169.45" r="2.05" fill="#fff" stroke="#68bf92" stroke-width="0.85"/>
<circle cx="373.60" cy="166.90" r="2.05" fill="#fff" stroke="#68bf92" stroke-width="0.85"/>
<circle cx="376.20" cy="164.00" r="2.05" fill="#fff" stroke="#68bf92" stroke-width="0.85"/>
<circle cx="378.90" cy="160.90" r="2.05" fill="#fff" stroke="#68bf92" stroke-width="0.85"/>
<circle cx="385.20" cy="152.50" r="2.05" fill="#fff" stroke="#68bf92" stroke-width="0.85"/>
<circle cx="392.70" cy="144.50" r="2.05" fill="#fff" stroke="#68bf92" stroke-width="0.85"/>
<circle cx="403.60" cy="133.00" r="2.05" fill="#fff" stroke="#68bf92" stroke-width="0.85"/>
<circle cx="413.60" cy="121.00" r="2.05" fill="#fff" stroke="#68bf92" stroke-width="0.85"/>
<circle cx="428.50" cy="107.00" r="2.05" fill="#fff" stroke="#68bf92" stroke-width="0.85"/>
<circle cx="447.80" cy="88.10" r="2.05" fill="#fff" stroke="#68bf92" stroke-width="0.85"/>
</g>
<rect x="312.6" y="10.1" width="226.70" height="182.25" fill="none" stroke="#000" stroke-width="1.3"/>
<line x1="312.6" y1="182.22" x2="314.30" y2="182.22" stroke="#000" stroke-width="1.1"/>
<line x1="312.6" y1="172.10" x2="315.60" y2="172.10" stroke="#000" stroke-width="1.1"/>
<line x1="312.6" y1="161.97" x2="314.30" y2="161.97" stroke="#000" stroke-width="1.1"/>
<line x1="312.6" y1="151.85" x2="315.60" y2="151.85" stroke="#000" stroke-width="1.1"/>
<line x1="312.6" y1="141.72" x2="314.30" y2="141.72" stroke="#000" stroke-width="1.1"/>
<line x1="312.6" y1="131.60" x2="315.60" y2="131.60" stroke="#000" stroke-width="1.1"/>
<line x1="312.6" y1="121.47" x2="314.30" y2="121.47" stroke="#000" stroke-width="1.1"/>
<line x1="312.6" y1="111.35" x2="315.60" y2="111.35" stroke="#000" stroke-width="1.1"/>
<line x1="312.6" y1="101.22" x2="314.30" y2="101.22" stroke="#000" stroke-width="1.1"/>
<line x1="312.6" y1="91.10" x2="315.60" y2="91.10" stroke="#000" stroke-width="1.1"/>
<line x1="312.6" y1="80.97" x2="314.30" y2="80.97" stroke="#000" stroke-width="1.1"/>
<line x1="312.6" y1="70.85" x2="315.60" y2="70.85" stroke="#000" stroke-width="1.1"/>
<line x1="312.6" y1="60.72" x2="314.30" y2="60.72" stroke="#000" stroke-width="1.1"/>
<line x1="312.6" y1="50.60" x2="315.60" y2="50.60" stroke="#000" stroke-width="1.1"/>
<line x1="312.6" y1="40.47" x2="314.30" y2="40.47" stroke="#000" stroke-width="1.1"/>
<line x1="312.6" y1="30.35" x2="315.60" y2="30.35" stroke="#000" stroke-width="1.1"/>
<line x1="312.6" y1="20.22" x2="314.30" y2="20.22" stroke="#000" stroke-width="1.1"/>
<text transform="translate(308.90,196.60) scale(0.95,1)" text-anchor="end" font-size="12.1" fill="#1a1a1a" stroke="#1a1a1a" stroke-width="0.2">0</text>
<text transform="translate(308.90,176.35) scale(0.95,1)" text-anchor="end" font-size="12.1" fill="#1a1a1a" stroke="#1a1a1a" stroke-width="0.2">2</text>
<text transform="translate(308.90,156.10) scale(0.95,1)" text-anchor="end" font-size="12.1" fill="#1a1a1a" stroke="#1a1a1a" stroke-width="0.2">4</text>
<text transform="translate(308.90,135.85) scale(0.95,1)" text-anchor="end" font-size="12.1" fill="#1a1a1a" stroke="#1a1a1a" stroke-width="0.2">6</text>
<text transform="translate(308.90,115.60) scale(0.95,1)" text-anchor="end" font-size="12.1" fill="#1a1a1a" stroke="#1a1a1a" stroke-width="0.2">8</text>
<text transform="translate(308.90,95.35) scale(0.95,1)" text-anchor="end" font-size="12.1" fill="#1a1a1a" stroke="#1a1a1a" stroke-width="0.2">10</text>
<text transform="translate(308.90,75.10) scale(0.95,1)" text-anchor="end" font-size="12.1" fill="#1a1a1a" stroke="#1a1a1a" stroke-width="0.2">12</text>
<text transform="translate(308.90,54.85) scale(0.95,1)" text-anchor="end" font-size="12.1" fill="#1a1a1a" stroke="#1a1a1a" stroke-width="0.2">14</text>
<text transform="translate(308.90,34.60) scale(0.95,1)" text-anchor="end" font-size="12.1" fill="#1a1a1a" stroke="#1a1a1a" stroke-width="0.2">16</text>
<text transform="translate(308.90,14.35) scale(0.95,1)" text-anchor="end" font-size="12.1" fill="#1a1a1a" stroke="#1a1a1a" stroke-width="0.2">18</text>
<line x1="323.94" y1="192.35" x2="323.94" y2="190.65" stroke="#000" stroke-width="1.1"/>
<line x1="335.27" y1="192.35" x2="335.27" y2="189.35" stroke="#000" stroke-width="1.1"/>
<line x1="346.61" y1="192.35" x2="346.61" y2="190.65" stroke="#000" stroke-width="1.1"/>
<line x1="357.94" y1="192.35" x2="357.94" y2="189.35" stroke="#000" stroke-width="1.1"/>
<line x1="369.27" y1="192.35" x2="369.27" y2="190.65" stroke="#000" stroke-width="1.1"/>
<line x1="380.61" y1="192.35" x2="380.61" y2="189.35" stroke="#000" stroke-width="1.1"/>
<line x1="391.94" y1="192.35" x2="391.94" y2="190.65" stroke="#000" stroke-width="1.1"/>
<line x1="403.28" y1="192.35" x2="403.28" y2="189.35" stroke="#000" stroke-width="1.1"/>
<line x1="414.62" y1="192.35" x2="414.62" y2="190.65" stroke="#000" stroke-width="1.1"/>
<line x1="425.95" y1="192.35" x2="425.95" y2="189.35" stroke="#000" stroke-width="1.1"/>
<line x1="437.28" y1="192.35" x2="437.28" y2="190.65" stroke="#000" stroke-width="1.1"/>
<line x1="448.62" y1="192.35" x2="448.62" y2="189.35" stroke="#000" stroke-width="1.1"/>
<line x1="459.95" y1="192.35" x2="459.95" y2="190.65" stroke="#000" stroke-width="1.1"/>
<line x1="471.29" y1="192.35" x2="471.29" y2="189.35" stroke="#000" stroke-width="1.1"/>
<line x1="482.62" y1="192.35" x2="482.62" y2="190.65" stroke="#000" stroke-width="1.1"/>
<line x1="493.96" y1="192.35" x2="493.96" y2="189.35" stroke="#000" stroke-width="1.1"/>
<line x1="505.29" y1="192.35" x2="505.29" y2="190.65" stroke="#000" stroke-width="1.1"/>
<line x1="516.63" y1="192.35" x2="516.63" y2="189.35" stroke="#000" stroke-width="1.1"/>
<line x1="527.96" y1="192.35" x2="527.96" y2="190.65" stroke="#000" stroke-width="1.1"/>
<text transform="translate(312.60,206.0) scale(0.95,1)" text-anchor="middle" font-size="12.1" fill="#1a1a1a" stroke="#1a1a1a" stroke-width="0.2">0</text>
<text transform="translate(335.27,206.0) scale(0.95,1)" text-anchor="middle" font-size="12.1" fill="#1a1a1a" stroke="#1a1a1a" stroke-width="0.2">2</text>
<text transform="translate(357.94,206.0) scale(0.95,1)" text-anchor="middle" font-size="12.1" fill="#1a1a1a" stroke="#1a1a1a" stroke-width="0.2">4</text>
<text transform="translate(380.61,206.0) scale(0.95,1)" text-anchor="middle" font-size="12.1" fill="#1a1a1a" stroke="#1a1a1a" stroke-width="0.2">6</text>
<text transform="translate(403.28,206.0) scale(0.95,1)" text-anchor="middle" font-size="12.1" fill="#1a1a1a" stroke="#1a1a1a" stroke-width="0.2">8</text>
<text transform="translate(425.95,206.0) scale(0.95,1)" text-anchor="middle" font-size="12.1" fill="#1a1a1a" stroke="#1a1a1a" stroke-width="0.2">10</text>
<text transform="translate(448.62,206.0) scale(0.95,1)" text-anchor="middle" font-size="12.1" fill="#1a1a1a" stroke="#1a1a1a" stroke-width="0.2">12</text>
<text transform="translate(471.29,206.0) scale(0.95,1)" text-anchor="middle" font-size="12.1" fill="#1a1a1a" stroke="#1a1a1a" stroke-width="0.2">14</text>
<text transform="translate(493.96,206.0) scale(0.95,1)" text-anchor="middle" font-size="12.1" fill="#1a1a1a" stroke="#1a1a1a" stroke-width="0.2">16</text>
<text transform="translate(516.63,206.0) scale(0.95,1)" text-anchor="middle" font-size="12.1" fill="#1a1a1a" stroke="#1a1a1a" stroke-width="0.2">18</text>
<text transform="translate(539.30,206.0) scale(0.95,1)" text-anchor="middle" font-size="12.1" fill="#1a1a1a" stroke="#1a1a1a" stroke-width="0.2">20</text>
<text x="425.95" y="225.6" text-anchor="middle" font-size="12.9" fill="#1a1a1a" stroke="#1a1a1a" stroke-width="0.15">Z', Ohm</text>
<line x1="320.0" y1="20.1" x2="338.8" y2="20.1" stroke="#a6a6a6" stroke-width="1.1"/>
<circle cx="329.4" cy="20.1" r="2.05" fill="#fff" stroke="#8a8a8a" stroke-width="0.85"/>
<text x="341.6" y="23.10" font-size="8.5" fill="#1a1a1a" stroke="#1a1a1a" stroke-width="0.15">0 mV</text>
<line x1="320.0" y1="30.8" x2="338.8" y2="30.8" stroke="#f2a2a2" stroke-width="1.1"/>
<circle cx="329.4" cy="30.8" r="2.05" fill="#fff" stroke="#ec7a7a" stroke-width="0.85"/>
<text x="341.6" y="33.80" font-size="8.5" fill="#1a1a1a" stroke="#1a1a1a" stroke-width="0.15">200 mV</text>
<line x1="320.0" y1="41.4" x2="338.8" y2="41.4" stroke="#8eb2ee" stroke-width="1.1"/>
<circle cx="329.4" cy="41.4" r="2.05" fill="#fff" stroke="#5d8ce4" stroke-width="0.85"/>
<text x="341.6" y="44.40" font-size="8.5" fill="#1a1a1a" stroke="#1a1a1a" stroke-width="0.15">400 mV</text>
<line x1="320.0" y1="52.0" x2="338.8" y2="52.0" stroke="#8ccfae" stroke-width="1.1"/>
<circle cx="329.4" cy="52.0" r="2.05" fill="#fff" stroke="#58b486" stroke-width="0.85"/>
<text x="341.6" y="55.00" font-size="8.5" fill="#1a1a1a" stroke="#1a1a1a" stroke-width="0.15">600 mV</text>
<text x="517.0" y="23.2" font-size="8.2" fill="#1a1a1a" stroke="#1a1a1a" stroke-width="0.15">1M</text>
<text transform="translate(290.9,101.5) rotate(-90)" text-anchor="middle" font-size="13.2" fill="#1a1a1a" stroke="#1a1a1a" stroke-width="0.15">−Z'', Ohm</text>
<text x="411.6" y="244.5" text-anchor="middle" font-family="'Liberation Serif', serif" font-weight="bold" font-size="10.6" fill="#1a1a1a">(b)</text>
</svg>
</body></html>
